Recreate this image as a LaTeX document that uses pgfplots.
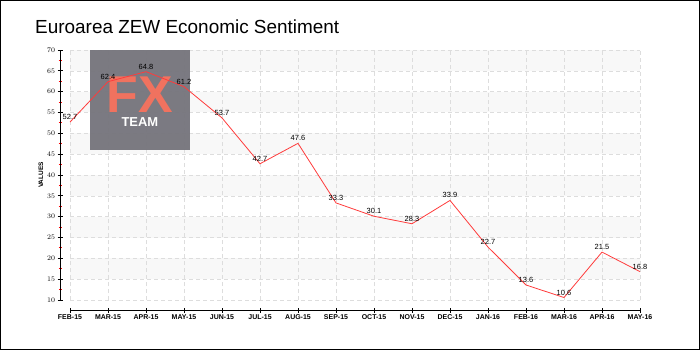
\documentclass[border=0pt]{standalone}
\usepackage{fontspec}
\setmainfont{Liberation Sans}
\usepackage{pgfplots}
\pgfplotsset{compat=1.18}
\definecolor{band}{HTML}{F8F8F8}
\definecolor{gridc}{HTML}{DDDDDD}
\definecolor{logogray}{HTML}{76757D}
\definecolor{fxc}{HTML}{F0725F}
\definecolor{linec}{HTML}{FF3B3B}
\begin{document}
\begin{tikzpicture}[x=1bp,y=1bp]
\draw[line width=1bp] (0.5,0.5) rectangle (699.5,349.5);
\node[anchor=base west, inner sep=0pt, font=\fontsize{19}{19}\selectfont] at (35,317) {Euroarea ZEW Economic Sentiment};
\begin{axis}[
  at={(70bp,50bp)}, anchor=south west, scale only axis,
  width=570bp, height=250bp,
  xmin=0, xmax=15, ymin=10, ymax=70,
  set layers,
  axis x line=bottom, axis y line=left,
  axis x line shift=10bp, axis y line shift=10bp,
  axis line style={-, black, line width=0.9bp},
  xtick={0,...,15},
  xticklabels={FEB-15,MAR-15,APR-15,MAY-15,JUN-15,JUL-15,AUG-15,SEP-15,OCT-15,NOV-15,DEC-15,JAN-16,FEB-16,MAR-16,APR-16,MAY-16},
  ytick={10,15,...,70},
  minor y tick num=1,
  tick align=center,
  major tick length=5bp,
  minor tick length=3bp,
  every tick/.style={black, line width=0.9bp},
  minor y tick style={red, line width=0.9bp},
  grid=major,
  major grid style={gridc, dash pattern=on 4bp off 3bp, line width=0.6bp},
  tick label style={font=\bfseries\fontsize{7}{8}\selectfont},
  yticklabel style={xshift=1bp},
  xticklabel style={yshift=1bp},
  ylabel={VALUES},
  ylabel style={font=\bfseries\fontsize{6.5}{7}\selectfont, yshift=-3bp},
  clip=false,
]
\begin{pgfonlayer}{axis background}
\fill[band] (axis cs:0,15) rectangle (axis cs:15,20);
\fill[band] (axis cs:0,25) rectangle (axis cs:15,30);
\fill[band] (axis cs:0,35) rectangle (axis cs:15,40);
\fill[band] (axis cs:0,45) rectangle (axis cs:15,50);
\fill[band] (axis cs:0,55) rectangle (axis cs:15,60);
\fill[band] (axis cs:0,65) rectangle (axis cs:15,70);
\end{pgfonlayer}
\fill[logogray, opacity=0.96] (axis cs:0.526,45.9) rectangle (axis cs:3.16,70);
\node[text=fxc, font=\bfseries\fontsize{52}{52}\selectfont] at (axis cs:1.84,59.2) {FX};
\node[text=white, font=\bfseries\fontsize{13}{13}\selectfont] at (axis cs:1.84,52.7) {TEAM};
\addplot[linec, line width=0.8bp,
  nodes near coords, point meta=explicit symbolic,
  every node near coord/.style={font=\fontsize{7.5}{8}\selectfont, black, anchor=south, inner sep=2bp}]
  table[meta=lab] {
x y lab
0 52.7 52.7
1 62.4 62.4
2 64.8 64.8
3 61.2 61.2
4 53.7 53.7
5 42.7 42.7
6 47.6 47.6
7 33.3 33.3
8 30.1 30.1
9 28.3 28.3
10 33.9 33.9
11 22.7 22.7
12 13.6 13.6
13 10.6 10.6
14 21.5 21.5
15 16.8 16.8
};
\end{axis}
\end{tikzpicture}
\end{document}
